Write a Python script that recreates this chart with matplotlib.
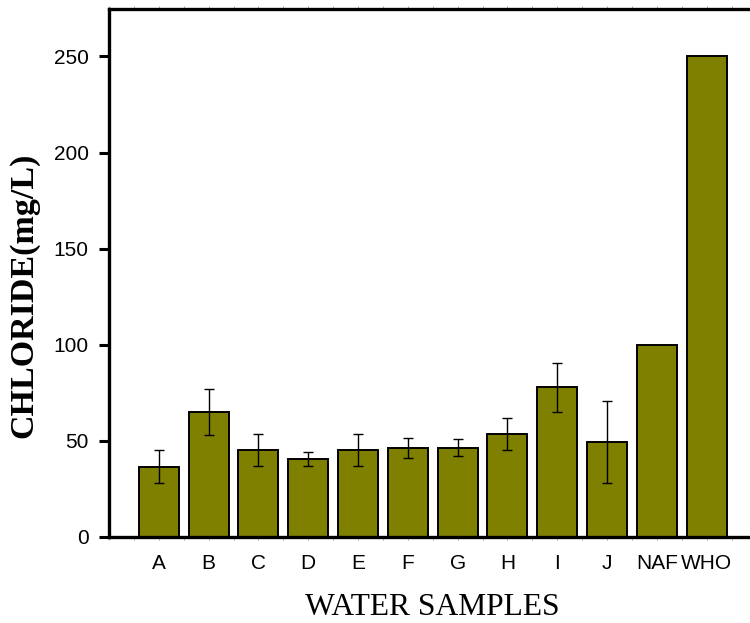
import matplotlib
matplotlib.use("Agg")
import matplotlib.pyplot as plt
from matplotlib.ticker import MultipleLocator
import numpy as np

samples = ["A", "B", "C", "D", "E", "F", "G", "H", "I", "J", "NAF", "WHO"]
chloride = [36.6, 65.2, 45.1, 40.6, 45.1, 46.2, 46.5, 53.6, 77.8, 49.5, 100, 250]
chloride_err = [8.5, 12.0, 8.3, 3.5, 8.3, 5.3, 4.4, 8.5, 12.8, 21.4, 0, 0]
yticks = [0, 50, 100, 150, 200, 250]

fig = plt.figure(figsize=(7.5, 6.23), dpi=100)
# axes box: left spine at x=109 px, bottom at y=537 px, top at y=9 px
ax = fig.add_axes([109 / 750, 86 / 623, 641 / 750, 528 / 623])

x = np.arange(len(samples))
errs = [e if e > 0 else np.nan for e in chloride_err]
ax.bar(x, chloride, width=0.805, color="#808000", edgecolor="black", linewidth=1.4, zorder=2)
ax.errorbar(x, chloride, yerr=errs, fmt="none", ecolor="black", elinewidth=1.0,
            capsize=3.8, capthick=1.0, zorder=3)

ax.set_xlim(-1.0, 11.87)
ax.set_ylim(0, 274.7)

ax.set_xticks(x)
ax.set_xticklabels(samples, family="Liberation Sans", fontsize=15)
ax.xaxis.set_minor_locator(MultipleLocator(0.5))
ax.set_yticks(yticks)
ax.set_yticklabels([str(v) for v in yticks], family="Liberation Sans", fontsize=15)

ax.tick_params(axis="y", which="major", direction="out", length=7.5, width=2.2, pad=7)
ax.tick_params(axis="x", which="both", direction="out", length=2, width=0.7,
               color="#aaaaaa", pad=10, top=True, labeltop=False)

for side in ["left", "bottom", "top"]:
    ax.spines[side].set_linewidth(2.4)
ax.spines["right"].set_visible(False)

fig.text(24 / 750, 1 - 295 / 623, "CHLORIDE(mg/L)", family="Liberation Serif",
         fontweight="bold", fontsize=24.5, rotation=90, ha="center", va="center")
fig.text(432.5 / 750, 1 - 615 / 623, "WATER SAMPLES", family="Liberation Serif",
         fontsize=22.7, ha="center", va="baseline")

fig.savefig("out.png", dpi=100)
